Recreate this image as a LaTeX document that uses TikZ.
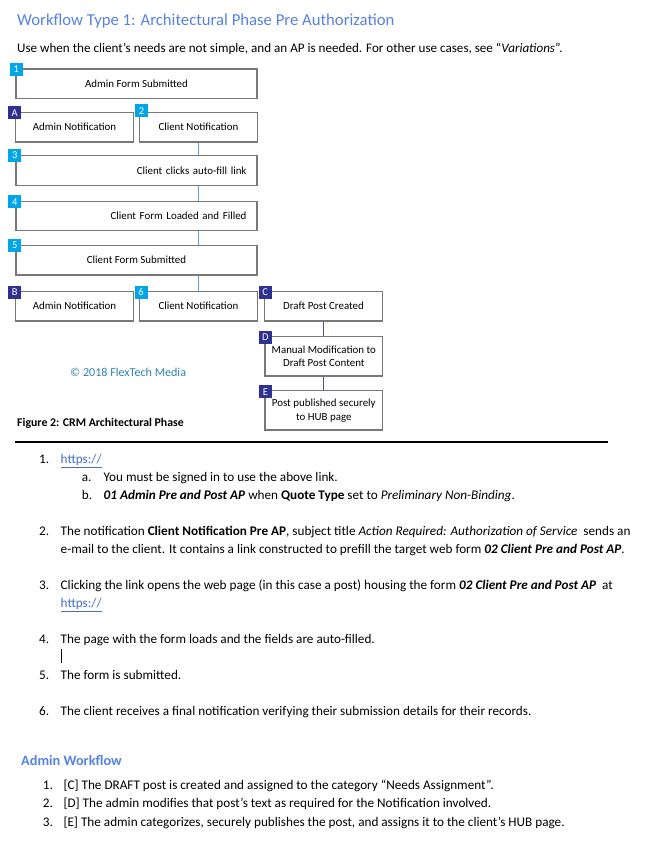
\documentclass[tikz,border=0pt]{standalone}
\usepackage{fontspec}
\setmainfont{Carlito}
\usetikzlibrary{positioning}

\definecolor{headblue}{RGB}{88,130,226}
\definecolor{boxgray}{RGB}{120,120,120}
\definecolor{tagcyan}{RGB}{0,166,232}
\definecolor{tagnavy}{RGB}{46,49,146}
\definecolor{linkblue}{RGB}{70,110,205}
\definecolor{copyblue}{RGB}{46,131,183}
\definecolor{flowcyan}{RGB}{80,160,220}
\definecolor{flownavy}{RGB}{80,80,160}

\tikzset{
	stepbox/.style={draw=boxgray, line width=1.2pt, minimum height=29.5pt, inner sep=0pt, align=center, font=\fontsize{10.9}{13.6}\selectfont},
	widebox/.style={stepbox, minimum width=241pt},
	smallbox/.style={stepbox, minimum width=117.5pt},
	tallbox/.style={stepbox, minimum width=117.5pt, minimum height=39.3pt},
	tag/.style={minimum size=13pt, inner sep=0pt, text=white, font=\fontsize{10.5}{10.5}\selectfont},
	tagclient/.style={tag, fill=tagcyan},
	tagadmin/.style={tag, fill=tagnavy},
	clientline/.style={draw=flowcyan, line width=1pt},
	adminline/.style={draw=flownavy, line width=1pt},
	body/.style={anchor=base west, inner sep=0pt, font=\fontsize{13.2}{16}\selectfont},
}

\newcommand{\weblink}{\textcolor{linkblue}{\underline{https://}}}

\begin{document}
\begin{tikzpicture}[x=1pt, y=-1pt]
	\fill[white] (0,0) rectangle (648,842);
	\useasboundingbox (0,0) rectangle (648,842);

	% heading
	\node[anchor=base west, inner sep=0pt, text=headblue, font=\fontsize{16.7}{20}\selectfont] (title) at (17,25.5) {Workflow Type 1: Architectural Phase Pre Authorization};
	\node[anchor=base west, inner sep=0pt, font=\fontsize{13.1}{16}\selectfont] (intro) at (17,52.4) {Use when the client’s needs are not simple, and an AP is needed. For other use cases, see “\textit{Variations}”.};

	% client flow
	\node[widebox] (b1) at (136.5,83.8) {Admin Form Submitted};
	\node[smallbox] (bA) at (74.5,127.2) {Admin Notification};
	\node[smallbox] (b2) at (198.4,127.2) {Client Notification};
	\node[widebox, text width=220pt, inner xsep=10.5pt, align=right] (b3) at (136.5,170.4) {Client clicks auto-fill link};
	\node[widebox, text width=220pt, inner xsep=10.5pt, align=right] (b4) at (136.5,216) {Client Form Loaded and Filled};
	\node[widebox] (b5) at (136.5,260.2) {Client Form Submitted};
	\node[smallbox] (bB) at (74.5,306.2) {Admin Notification};
	\node[smallbox] (b6) at (198.4,306.2) {Client Notification};

	% admin flow
	\node[smallbox] (bC) at (323.5,306.2) {Draft Post Created};
	\node[tallbox] (bD) at (323.8,356.3) {Manual Modification to\\Draft Post Content};
	\node[tallbox] (bE) at (323.8,410.4) {Post published securely\\to HUB page};

	\draw[clientline] (b2.south) -- (b2.south |- b3.north);
	\draw[clientline] (b2.south |- b3.south) -- (b2.south |- b4.north);
	\draw[clientline] (b2.south |- b4.south) -- (b2.south |- b5.north);
	\draw[clientline] (b2.south |- b5.south) -- (b6.north);
	\draw[adminline] (bC.south) -- (bC.south |- bD.north);
	\draw[adminline] (bC.south |- bD.south) -- (bC.south |- bE.north);

	% step tags
	\node[tagclient] (t1) at ([xshift=1pt,yshift=-1pt]b1.north west) {1};
	\node[tagadmin] (tA) at ([xshift=-0.5pt,yshift=-1pt]bA.north west) {A};
	\node[tagclient] (t2) at ([xshift=2.5pt,yshift=1pt]b2.north west) {2};
	\node[tagclient] (t3) at ([xshift=-0.5pt,yshift=-0.5pt]b3.north west) {3};
	\node[tagclient] (t4) at ([xshift=-0.5pt,yshift=-1pt]b4.north west) {4};
	\node[tagclient] (t5) at ([xshift=-0.5pt,yshift=-0.5pt]b5.north west) {5};
	\node[tagadmin] (tB) at ([xshift=-0.5pt,yshift=-1.5pt]bB.north west) {B};
	\node[tagclient] (t6) at ([xshift=2pt,yshift=-1.5pt]b6.north west) {6};
	\node[tagadmin] (tC) at ([xshift=1pt,yshift=-1.5pt]bC.north west) {C};
	\node[tagadmin] (tD) at ([xshift=1pt,yshift=-1.5pt]bD.north west) {D};
	\node[tagadmin] (tE) at ([xshift=1pt,yshift=-1.5pt]bE.north west) {E};

	\node[anchor=base west, inner sep=0pt, text=copyblue, font=\fontsize{12.1}{14}\selectfont] (copy) at (70,376.7) {© 2018 FlexTech Media};
	\node[anchor=base west, inner sep=0pt, font=\fontsize{11.8}{14}\bfseries] (caption) at (17,426.2) {Figure 2: CRM Architectural Phase};

	\draw[line width=1.1pt] (15,442) -- (608,442);

	% steps
	\node[body] (n1) at (39,463.8) {1.};
	\node[body] (s1) at (60.5,463.8) {\weblink};
	\node[body] (n1a) at (81.7,481.4) {a.};
	\node[body] (s1a) at (103.5,481.4) {You must be signed in to use the above link.};
	\node[body] (n1b) at (81.7,499.4) {b.};
	\node[body] (s1b) at (103.5,499.4) {\textbf{\textit{01 Admin Pre and Post AP}} when \textbf{Quote Type} set to \textit{Preliminary Non-Binding}.};
	\node[body] (n2) at (39,535.4) {2.};
	\node[body] (s2) at (60.5,535.4) {The notification \textbf{Client Notification Pre AP}, subject title \textit{Action Required: Authorization of Service}\ \ sends an};
	\node[body] (s2b) at (60.5,553.7) {e-mail to the client. It contains a link constructed to prefill the target web form \textbf{\textit{02 Client Pre and Post AP}}.};
	\node[body] (n3) at (39,589.7) {3.};
	\node[body] (s3) at (60.5,589.7) {Clicking the link opens the web page (in this case a post) housing the form \textbf{\textit{02 Client Pre and Post AP}}\ \ at};
	\node[body] (s3b) at (60.5,607.7) {\weblink};
	\node[body] (n4) at (39,643.4) {4.};
	\node[body] (s4) at (60.5,643.4) {The page with the form loads and the fields are auto-filled.};
	\draw[line width=1.6pt] (61.5,649) -- (61.5,663);
	\node[body] (n5) at (39,679.4) {5.};
	\node[body] (s5) at (60.5,679.4) {The form is submitted.};
	\node[body] (n6) at (39,715.4) {6.};
	\node[body] (s6) at (60.5,715.4) {The client receives a final notification verifying their submission details for their records.};

	% admin workflow
	\node[anchor=base west, inner sep=0pt, text=headblue, font=\fontsize{14.3}{16}\bfseries] (admin) at (21,765.5) {Admin Workflow};
	\node[body] (m1) at (42.7,789.4) {1.};
	\node[body] (a1) at (63.3,789.4) {[C] The DRAFT post is created and assigned to the category “Needs Assignment”.};
	\node[body] (m2) at (42.7,807.7) {2.};
	\node[body] (a2) at (63.3,807.7) {[D] The admin modifies that post’s text as required for the Notification involved.};
	\node[body] (m3) at (42.7,826.1) {3.};
	\node[body] (a3) at (63.3,826.1) {[E] The admin categorizes, securely publishes the post, and assigns it to the client’s HUB page.};
\end{tikzpicture}
\end{document}
